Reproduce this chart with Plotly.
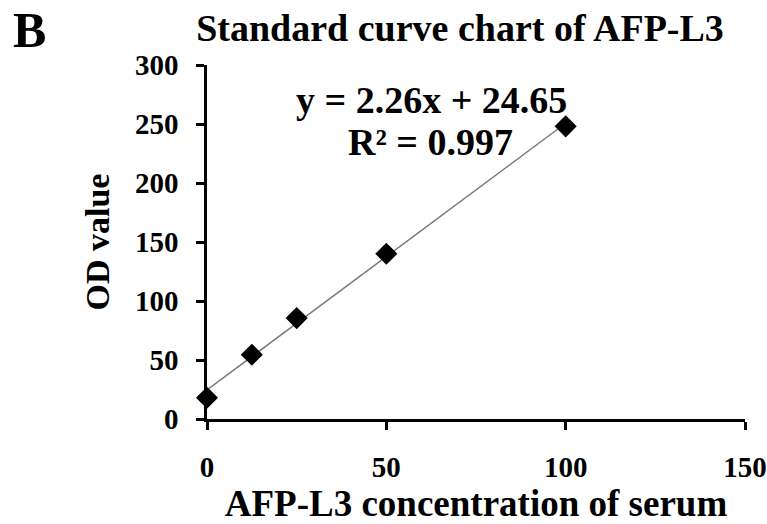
import plotly.graph_objects as go

# Data
concentration = [0, 12.5, 25, 50, 100]
od_value = [18, 54.5, 85.5, 140, 248]
slope = 2.26
intercept = 24.65
r_squared = 0.997
fit_x = [0, 100]
fit_y = [slope * v + intercept for v in fit_x]

x_ticks = [0, 50, 100, 150]
y_ticks = [0, 50, 100, 150, 200, 250, 300]

FONT = "Liberation Serif"
W, H = 767, 524
L, R, T, B = 207, 22, 65, 105
PW, PH = W - L - R, H - T - B

fig = go.Figure()
fig.add_trace(go.Scatter(
    x=fit_x, y=fit_y, mode="lines",
    line=dict(color="#7a7a7a", width=1.5),
    showlegend=False, hoverinfo="skip", cliponaxis=False,
))
fig.add_trace(go.Scatter(
    x=concentration, y=od_value, mode="markers",
    marker=dict(symbol="diamond", size=17, color="black"),
    showlegend=False, cliponaxis=False,
))

axis_common = dict(
    showline=True, linecolor="black", linewidth=2.5,
    ticks="outside", ticklen=8, tickwidth=2.5, tickcolor="black",
    showgrid=False, zeroline=False,
    tickfont=dict(family=FONT, size=29, color="black", weight="bold"),
    ticklabelstandoff=12,
    ticklabeloverflow="allow",
    automargin=False,
)

fig.update_xaxes(
    range=[0, 150], tickvals=x_ticks,
    title=dict(text="AFP-L3 concentration of serum",
               font=dict(family=FONT, size=37, color="black", weight="bold"),
               standoff=10),
    **axis_common,
)
fig.update_yaxes(
    range=[0, 300], tickvals=y_ticks,
    title=dict(text="OD value",
               font=dict(family=FONT, size=34, color="black", weight="bold"),
               standoff=16),
    **axis_common,
)

fig.add_annotation(
    x=62.5, y=270, xref="x", yref="y",
    text=f"y = {slope}x + {intercept}", showarrow=False,
    font=dict(family=FONT, size=38, color="black", weight="bold"),
)
fig.add_annotation(
    x=62.3, y=235, xref="x", yref="y",
    text=f"R² = {r_squared}", showarrow=False,
    font=dict(family=FONT, size=38, color="black", weight="bold"),
)
fig.add_annotation(
    x=(29 - L) / PW, y=(H - B - 30) / PH, xref="paper", yref="paper",
    text="B", showarrow=False, xanchor="center", yanchor="middle",
    font=dict(family=FONT, size=50, color="black", weight="bold"),
)

fig.update_layout(
    width=W, height=H,
    margin=dict(l=L, r=R, t=T, b=B),
    paper_bgcolor="white", plot_bgcolor="white",
    title=dict(text="Standard curve chart of AFP-L3",
               x=460 / W, xanchor="center",
               y=1 - 28 / H, yanchor="middle",
               xref="container", yref="container",
               font=dict(family=FONT, size=38, color="black", weight="bold")),
)

fig.write_html("out.html", config={"displayModeBar": False},
               post_script="document.body.style.margin='0';")
